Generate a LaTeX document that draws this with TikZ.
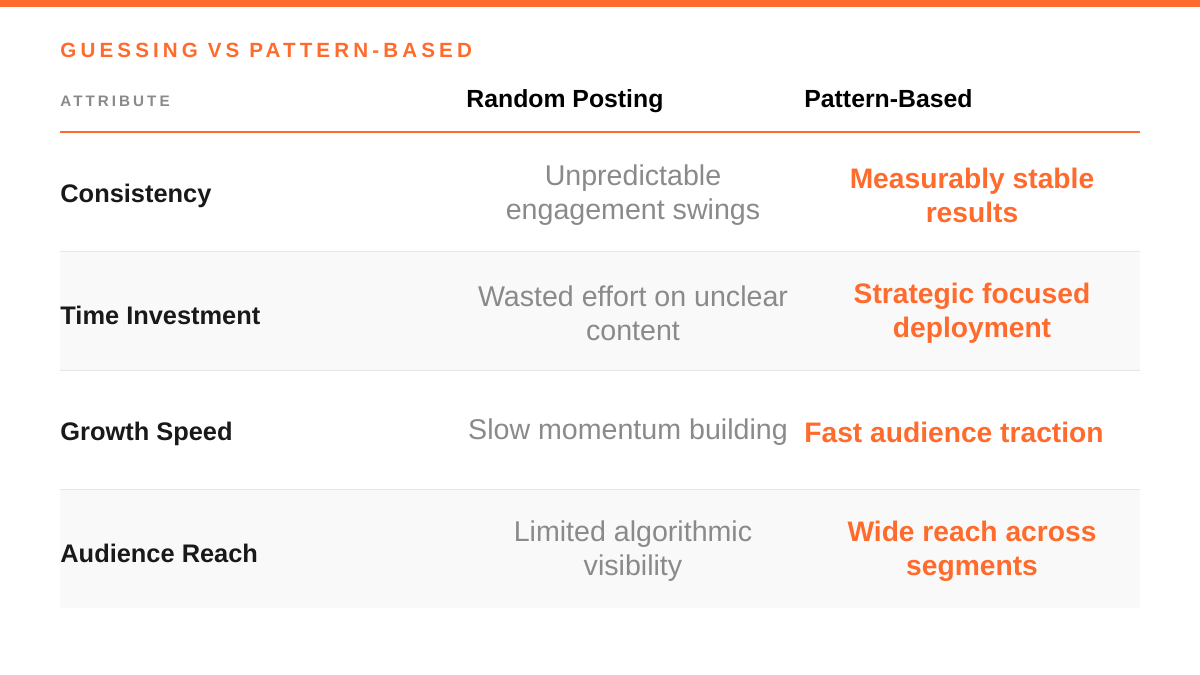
\documentclass[tikz,border=0pt]{standalone}
\usepackage{fontspec}
\setmainfont{Liberation Sans}
\newfontfamily\spaced[LetterSpace=20]{Liberation Sans}
\definecolor{org}{HTML}{FF6B2C}
\definecolor{gtx}{HTML}{8A8A8A}
\definecolor{shd}{HTML}{F9F9F9}
\definecolor{sep}{HTML}{E6E6E6}
\begin{document}
\begin{tikzpicture}[x=0.5pt,y=-0.5pt,every node/.style={inner sep=0pt},
  lab/.style={anchor=west,font=\bfseries\fontsize{12.7}{15}\selectfont,text=black!90},
  mid/.style={align=center,font=\fontsize{14.3}{17}\selectfont,text=gtx},
  rgt/.style={align=center,font=\bfseries\fontsize{14.1}{17}\selectfont,text=org},
  hdr/.style={anchor=base west,font=\bfseries\fontsize{12.4}{15}\selectfont}]
\useasboundingbox (0,0) rectangle (1200,675);
\fill[white] (0,0) rectangle (1200,675);
\fill[org] (0,0) rectangle (1200,7);
\node[anchor=base west,text=org,font=\spaced\bfseries\fontsize{10.3}{12}\selectfont] (title) at (60,57) {GUESSING VS PATTERN-BASED};
\node[anchor=base west,text=gtx,font=\spaced\bfseries\fontsize{7.6}{9}\selectfont] (attr) at (60,106) {ATTRIBUTE};
\node[hdr] (h1) at (466,107) {Random Posting};
\node[hdr] (h2) at (804,107) {Pattern-Based};
\fill[shd] (60,251) rectangle (1140,370);
\fill[shd] (60,489) rectangle (1140,608);
\draw[sep] (60,251) -- (1140,251) (60,370) -- (1140,370) (60,489) -- (1140,489);
\draw[org,line width=1pt] (60,132) -- (1140,132);
\node[lab] (l1) at (60,196) {Consistency};
\node[mid] (m1) at (633,195) {Unpredictable\\engagement swings};
\node[rgt] (r1) at (972,195) {Measurably stable\\results};
\node[lab] (l2) at (60,315) {Time Investment};
\node[mid] (m2) at (633,313) {Wasted effort on unclear\\content};
\node[rgt] (r2) at (972,313) {Strategic focused\\deployment};
\node[lab] (l3) at (60,434) {Growth Speed};
\node[mid] (m3) at (628,432) {Slow momentum building};
\node[rgt] (r3) at (954,432) {Fast audience traction};
\node[lab] (l4) at (60,553) {Audience Reach};
\node[mid] (m4) at (633,551) {Limited algorithmic\\visibility};
\node[rgt] (r4) at (972,551) {Wide reach across\\segments};
\end{tikzpicture}
\end{document}
